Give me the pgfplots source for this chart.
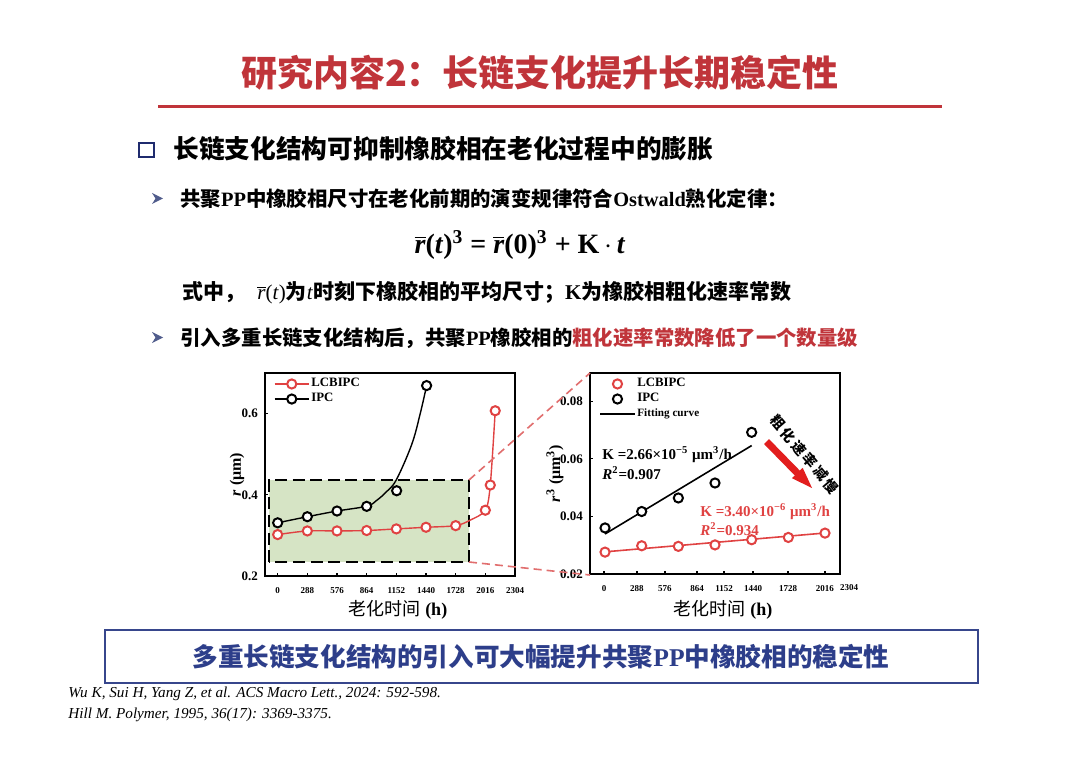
\documentclass[border=0pt]{standalone}
\usepackage{pgfplots}
\pgfplotsset{compat=1.18}
\usepackage{fontspec}
\setmainfont{Liberation Serif}
\newfontfamily\cjk{Noto Sans CJK SC}

\definecolor{ttlred}{RGB}{192,52,58}
\definecolor{lcred}{RGB}{224,66,66}
\definecolor{navy}{RGB}{31,43,110}
\definecolor{boxblue}{RGB}{55,70,140}
\definecolor{txtblue}{RGB}{45,62,138}
\definecolor{sage}{RGB}{214,228,197}
\definecolor{dashred}{RGB}{225,110,110}
\definecolor{arrowred}{RGB}{226,30,30}
\definecolor{bulletgray}{RGB}{80,92,140}

\newcommand\rbar{$\overline{\mbox{\itshape r}}$}

\pgfplotsset{
  slide axis/.style={
    scale only axis, anchor=north west,
    tick align=inside, xtick pos=left, ytick pos=left,
    major tick length=1.6pt,
    axis line style={line width=0.9pt},
    tick style={black, line width=0.6pt},
    xticklabel style={font=\bfseries\fontsize{4.5}{5}\selectfont, yshift=-2pt},
    yticklabel style={font=\bfseries\fontsize{6.5}{7}\selectfont},
    scaled y ticks=false,
    legend cell align=left,
    legend style={draw=none, fill=none, inner sep=0.5pt,
      font=\bfseries\fontsize{6.4}{7}\selectfont,
      nodes={inner sep=0.9pt}, row sep=0pt},
  },
  ring/.style={only marks, mark=*, mark size=2.3pt,
    mark options={draw=#1, fill=white, line width=1pt}},
}

\begin{document}
\begin{tikzpicture}
\begin{scope}[x=0.5pt,y=-0.5pt]
\path[use as bounding box, fill=white] (0,0) rectangle (1080,764);
\coordinate (LA) at (265,373);
\coordinate (RA) at (590,373);

% title
\node[text=ttlred, font=\cjk\bfseries\fontsize{18}{20}\selectfont] at (540,73) {研究内容2：长链支化提升长期稳定性};
\draw[ttlred, line width=1.5pt] (158,107) -- (942,107);

% bullets
\draw[navy, line width=1.3pt] (139,143) rectangle (154,157);
\node[anchor=west, inner sep=0pt, font=\cjk\bfseries\fontsize{12.85}{14}\selectfont] at (173,149) {长链支化结构可抑制橡胶相在老化过程中的膨胀};

\fill[bulletgray] (152,193) -- (163,198.5) -- (152,204) -- (155.5,198.5) -- cycle;
\node[anchor=west, inner sep=0pt, font=\cjk\bfseries\fontsize{10.2}{12}\selectfont] at (180,199) {共聚{\rmfamily PP}中橡胶相尺寸在老化前期的演变规律符合{\rmfamily Ostwald}熟化定律：};

\node[font=\bfseries\fontsize{14}{16}\selectfont] at (520,245) {\rbar(\textit{t})\textsuperscript{3} = \rbar(0)\textsuperscript{3} + K\,$\cdot$\,\textit{t}};

\node[anchor=west, inner sep=0pt, font=\cjk\bfseries\fontsize{10.5}{12}\selectfont] at (182,293) {式中，\hspace{6pt}{\rmfamily\mdseries\rbar(\textit{t})}为{\rmfamily\mdseries\textit{t}}时刻下橡胶相的平均尺寸；{\rmfamily K}为橡胶相粗化速率常数};

\fill[bulletgray] (152,332) -- (163,337.5) -- (152,343) -- (155.5,337.5) -- cycle;
\node[anchor=west, inner sep=0pt, font=\cjk\bfseries\fontsize{10.2}{12}\selectfont] at (180,338) {引入多重长链支化结构后，共聚{\rmfamily PP}橡胶相的\textcolor{ttlred}{粗化速率常数降低了一个数量级}};

% conclusion box
\draw[boxblue, line width=1.3pt] (105,630) rectangle (978,683);
\node[text=txtblue, font=\cjk\bfseries\fontsize{12.8}{14}\selectfont] at (541,657) {多重长链支化结构的引入可大幅提升共聚{\rmfamily PP}中橡胶相的稳定性};

% references
\node[anchor=west, inner sep=0pt, font=\itshape\fontsize{7.6}{8}\selectfont] at (68,694) {Wu K, Sui H, Yang Z, et al. ACS Macro Lett., 2024: 592-598.};
\node[anchor=west, inner sep=0pt, font=\itshape\fontsize{7.6}{8}\selectfont] at (68,715) {Hill M. Polymer, 1995, 36(17): 3369-3375.};
\end{scope}

% left: r vs ageing time
\begin{axis}[slide axis, at={(LA)}, width=125pt, height=101.5pt,
  xmin=-123, xmax=2304, ymin=0.2, ymax=0.7,
  xtick={0,288,576,864,1152,1440,1728,2016,2304},
  xticklabels={0,288,576,864,1152,1440,1728,2016,2304},
  ytick={0.2,0.4,0.6}, yticklabels={0.2,0.4,0.6},
  xlabel={{\cjk 老化时间} \textbf{(h)}},
  xlabel style={at={(axis description cs:0.532,-0.167)}, anchor=center, font=\fontsize{9}{10}\selectfont},
  ylabel={\textbf{\textit{r} (μm)}},
  ylabel style={at={(axis description cs:-0.112,0.5)}, anchor=center, font=\fontsize{8}{9}\selectfont},
  legend style={at={(axis description cs:0.03,0.99)}, anchor=north west},
]
\fill[sage] (axis cs:-84,0.234) rectangle (axis cs:1857,0.436);
\draw[line width=1.2pt, dash pattern=on 6pt off 2.8pt] (axis cs:-84,0.234) rectangle (axis cs:1857,0.436);

\addplot[black, line width=0.7pt, smooth, tension=0.6, forget plot] coordinates {
  (0,0.331) (288,0.346) (576,0.360) (864,0.372) (960,0.386) (1058,0.408)
  (1152,0.437) (1300,0.523) (1382,0.598) (1446,0.669)};
\addplot[lcred, line width=0.7pt, smooth, tension=0.5, forget plot] coordinates {
  (0,0.302) (288,0.311) (576,0.311) (864,0.312) (1152,0.316) (1440,0.320)
  (1728,0.324) (1872,0.338) (2016,0.362) (2064,0.424) (2112,0.607)};

\addplot[ring=black, forget plot] coordinates {
  (0,0.331) (288,0.346) (576,0.360) (864,0.3716) (1155,0.410) (1446,0.669)};
\addplot[ring=lcred, forget plot] coordinates {
  (0,0.302) (288,0.311) (576,0.311) (864,0.312) (1152,0.316) (1440,0.320)
  (1728,0.324) (2016,0.362) (2064,0.424) (2112,0.607)};

\addlegendimage{lcred, line width=0.8pt, mark=*, mark size=2.3pt, mark options={fill=white, line width=1pt}}
\addlegendentry{LCBIPC}
\addlegendimage{black, line width=0.8pt, mark=*, mark size=2.3pt, mark options={fill=white, line width=1pt}}
\addlegendentry{IPC}
\end{axis}

% right: r^3 vs ageing time with linear fits
\begin{axis}[slide axis, at={(RA)}, width=125pt, height=100.5pt,
  xmin=-118, xmax=1846, ymin=0.02, ymax=0.0898,
  xtick={-8,251,471,723,935,1163,1438,1728},
  xticklabels={0,288,576,864,1152,1440,1728,2016},
  ytick={0.02,0.04,0.06,0.08}, yticklabels={0.02,0.04,0.06,0.08},
  xlabel={{\cjk 老化时间} \textbf{(h)}},
  xlabel style={at={(axis description cs:0.532,-0.179)}, anchor=center, font=\fontsize{9}{10}\selectfont},
  ylabel={\textbf{\textit{r}\textsuperscript{3} (μm\textsuperscript{3})}},
  ylabel style={at={(axis description cs:-0.14,0.5)}, anchor=center, font=\fontsize{8}{9}\selectfont},
  legend style={at={(axis description cs:0.032,0.99)}, anchor=north west},
]
\addplot[black, line width=0.8pt, forget plot] coordinates {(0,0.0339) (1152,0.0646)};
\addplot[lcred, line width=0.8pt, forget plot] coordinates {(-26,0.0276) (1746,0.0343)};

\addplot[ring=black, forget plot] coordinates {
  (0,0.0360) (288,0.0417) (576,0.0464) (864,0.0516) (1152,0.0692)};
\addplot[ring=lcred, forget plot] coordinates {
  (0,0.0276) (288,0.0298) (576,0.0296) (864,0.0301) (1152,0.0319) (1440,0.0327) (1728,0.0342)};

\addlegendimage{ring=lcred}
\addlegendentry{LCBIPC}
\addlegendimage{ring=black}
\addlegendentry{IPC}
\addlegendimage{black, line width=1pt}
\addlegendentry{\fontsize{5.6}{6}\selectfont Fitting curve}
\end{axis}

\begin{scope}[x=0.5pt,y=-0.5pt]
\draw[dashred, line width=0.8pt, dash pattern=on 4pt off 2.5pt] (469,480) -- (590,373);
\draw[dashred, line width=0.8pt, dash pattern=on 4pt off 2.5pt] (469,562) -- (590,575);

\node[anchor=west, inner sep=0pt, font=\bfseries\fontsize{7.5}{8}\selectfont] at (602,455) {K =2.66×10\textsuperscript{−5} μm\textsuperscript{3}/h};
\node[anchor=west, inner sep=0pt, font=\bfseries\fontsize{7.5}{8}\selectfont] at (602,473) {\textit{R}\textsuperscript{2}=0.907};
\node[anchor=west, inner sep=0pt, text=lcred, font=\bfseries\fontsize{7.5}{8}\selectfont] at (700,512) {K =3.40×10\textsuperscript{−6} μm\textsuperscript{3}/h};
\node[anchor=west, inner sep=0pt, text=lcred, font=\bfseries\fontsize{7.5}{8}\selectfont] at (700,529) {\textit{R}\textsuperscript{2}=0.934};

\fill[arrowred] (764.0,444.0) -- (794.8,475.5) -- (791.9,478.2) -- (812,488) -- (802.7,467.8) -- (799.8,470.6) -- (769.0,439.1) -- cycle;
\node[rotate=-49.6, inner sep=0pt, font=\cjk\bfseries\fontsize{7}{8}\selectfont] at (804.5,454.3) {粗\hspace{1.3pt}化\hspace{1.3pt}速\hspace{1.3pt}率\hspace{1.3pt}减\hspace{1.3pt}慢};

\node[font=\bfseries\fontsize{4.5}{5}\selectfont] at (849,588) {2304};
\end{scope}
\end{tikzpicture}
\end{document}
